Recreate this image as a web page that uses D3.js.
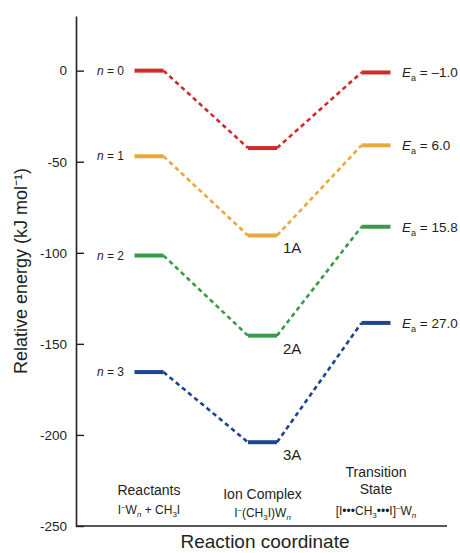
<!DOCTYPE html>
<html lang="en">
<head>
<meta charset="UTF-8">
<title>Energy diagram</title>
<script src="https://d3js.org/d3.v7.min.js"></script>
<style>
  body { margin: 0; background: #fff; }
  svg { font-family: Arial, "Liberation Sans", sans-serif; }
  .narrow { font-family: "Liberation Sans Narrow", "Liberation Sans", Arial, sans-serif; }
</style>
</head>
<body>
<svg id="chart"></svg>
<script>
// data
const stages = ["Reactants", "Ion Complex", "Transition State"];
const clusters = ["n = 0", "n = 1", "n = 2", "n = 3"];
const reactants = [0, -47, -101.5, -165.5];
const complexes = [-42.5, -90.5, -145.5, -204];
const transition = [-1.0, -41, -85.7, -138.5];
const barrier = ["–1.0", "6.0", "15.8", "27.0"];
const complexNames = ["", "1A", "2A", "3A"];
const colors = ["#d12a2b", "#e8a93a", "#3a9a4b", "#1d4490"];
const yTicks = [0, -50, -100, -150, -200, -250];

const width = 460, height = 553;
const svg = d3.select("#chart").attr("width", width).attr("height", height);

const x = d3.scalePoint().domain(stages).range([149, 376]);
const y = d3.scaleLinear().domain([-250, 30]).range([526, 16]);
const half = 14.5;

const levels = clusters.map((c, i) => [reactants[i], complexes[i], transition[i]]);

// axes
const yAxis = d3.axisLeft(y).tickValues(yTicks).tickFormat(d => String(d))
  .tickSizeInner(-8).tickSizeOuter(0).tickPadding(9);
const gy = svg.append("g").attr("transform", "translate(76,0)").call(yAxis);
gy.select(".domain").attr("stroke", "#231f20").attr("stroke-width", 1.6);
gy.selectAll(".tick line").attr("stroke", "#231f20").attr("stroke-width", 1.4);
gy.selectAll(".tick text").attr("font-size", 13.5).attr("fill", "#231f20");

svg.append("line")
  .attr("x1", 76).attr("x2", 447)
  .attr("y1", y(-250)).attr("y2", y(-250))
  .attr("stroke", "#231f20").attr("stroke-width", 1.6);

// dashed connectors
levels.forEach((lv, i) => {
  for (let k = 0; k < 2; k++) {
    svg.append("line")
      .attr("x1", x(stages[k]) + half).attr("y1", y(lv[k]))
      .attr("x2", x(stages[k + 1]) - half).attr("y2", y(lv[k + 1]))
      .attr("stroke", colors[i]).attr("stroke-width", 2.6)
      .attr("stroke-dasharray", "4.5,3.5");
  }
});

// level bars
levels.forEach((lv, i) => {
  svg.selectAll(null).data(lv).join("line")
    .attr("x1", (d, k) => x(stages[k]) - half)
    .attr("x2", (d, k) => x(stages[k]) + half)
    .attr("y1", d => y(d)).attr("y2", d => y(d))
    .attr("stroke", colors[i]).attr("stroke-width", 4);
});

// n labels
clusters.forEach((c, i) => {
  const t = svg.append("text")
    .attr("x", 124).attr("y", y(reactants[i]) + 4)
    .attr("text-anchor", "end").attr("font-size", 12).attr("fill", "#231f20");
  t.append("tspan").attr("font-style", "italic").text("n");
  t.append("tspan").text(c.slice(1));
});

// Ea labels
transition.forEach((d, i) => {
  const t = svg.append("text")
    .attr("x", 402).attr("y", y(d) + 5)
    .attr("font-size", 13.5).attr("fill", "#231f20");
  t.append("tspan").attr("font-style", "italic").text("E");
  t.append("tspan").attr("font-size", 9).attr("dy", 4).text("a");
  t.append("tspan").attr("dy", -4).text(" = " + barrier[i]);
});

// complex names
complexes.forEach((d, i) => {
  if (!complexNames[i]) return;
  svg.append("text")
    .attr("x", 283).attr("y", y(d) + 18)
    .attr("font-size", 15).attr("fill", "#231f20")
    .text(complexNames[i]);
});

// stage labels
const stageLines = [["Reactants"], ["Ion Complex"], ["Transition", "State"]];
const stageBase = [495, 499, 477];
stageLines.forEach((lines, k) => {
  lines.forEach((s, j) => {
    svg.append("text")
      .attr("x", x(stages[k])).attr("y", stageBase[k] + j * 17)
      .attr("text-anchor", "middle").attr("font-size", 14).attr("fill", "#231f20")
      .text(s);
  });
});

function formula(xc, yb, parts) {
  const t = svg.append("text").attr("class", "narrow")
    .attr("x", xc).attr("y", yb).attr("text-anchor", "middle")
    .attr("font-size", 12).attr("fill", "#231f20");
  parts.forEach(p => {
    const s = t.append("tspan").text(p[0]);
    if (p[1] === "sup") s.attr("font-size", 8).attr("dy", -5);
    if (p[1] === "sub") s.attr("font-size", 8).attr("dy", 3);
    if (p[1] === "subi") s.attr("font-size", 8).attr("dy", 3).attr("font-style", "italic");
    if (p[2]) s.attr("dy", p[2]);
  });
}
formula(x(stages[0]), 514, [["I"], ["–", "sup"], ["W", null, 5], ["n", "subi"], [" + CH", null, -3], ["3", "sub"], ["I", null, -3]]);
formula(x(stages[1]), 517, [["I"], ["–", "sup"], ["(CH", null, 5], ["3", "sub"], ["I)W", null, -3], ["n", "subi"]]);
formula(x(stages[2]), 515, [["[I•••CH"], ["3", "sub"], ["•••I]", null, -3], ["–", "sup"], ["W", null, 5], ["n", "subi"]]);

// axis titles
svg.append("text")
  .attr("transform", `translate(27,${y(-110)}) rotate(-90)`)
  .attr("text-anchor", "middle").attr("font-size", 18).attr("fill", "#231f20")
  .text("Relative  energy (kJ mol⁻¹)");
svg.append("text")
  .attr("x", 265).attr("y", 548)
  .attr("text-anchor", "middle").attr("font-size", 19).attr("fill", "#231f20")
  .text("Reaction coordinate");
</script>
</body>
</html>
